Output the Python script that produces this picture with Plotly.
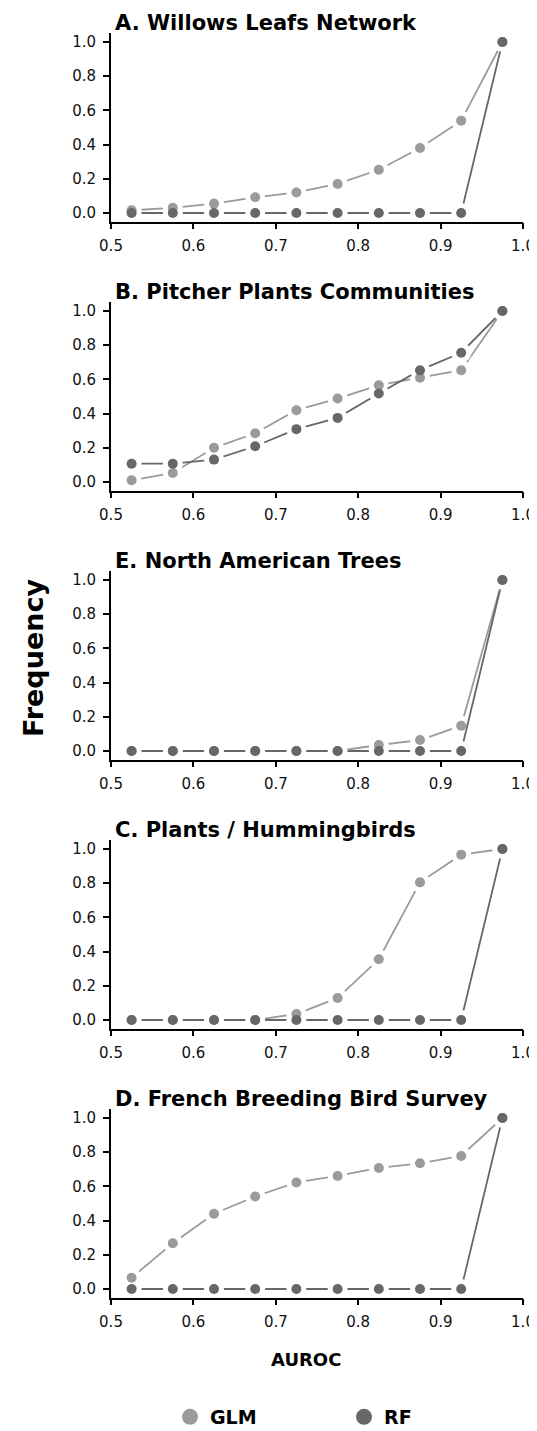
import plotly.graph_objects as go

# ---------------- data ----------------
auroc_bins = [0.525, 0.575, 0.625, 0.675, 0.725, 0.775, 0.825, 0.875, 0.925, 0.975]

panel_titles = [
    "A. Willows Leafs Network",
    "B. Pitcher Plants Communities",
    "E. North American Trees",
    "C. Plants / Hummingbirds",
    "D. French Breeding Bird Survey",
]

glm_willows = [0.016, 0.03, 0.055, 0.092, 0.12, 0.17, 0.253, 0.38, 0.54, 1.0]
rf_willows = [0, 0, 0, 0, 0, 0, 0, 0, 0, 1.0]

glm_pitcher = [0.01, 0.053, 0.2, 0.285, 0.42, 0.488, 0.566, 0.61, 0.654, 1.0]
rf_pitcher = [0.107, 0.107, 0.131, 0.209, 0.309, 0.375, 0.518, 0.654, 0.756, 1.0]

glm_trees = [0, 0, 0, 0, 0, 0, 0.035, 0.064, 0.148, 1.0]
rf_trees = [0, 0, 0, 0, 0, 0, 0, 0, 0, 1.0]

glm_humming = [0, 0, 0, 0, 0.035, 0.129, 0.355, 0.805, 0.967, 1.0]
rf_humming = [0, 0, 0, 0, 0, 0, 0, 0, 0, 1.0]

glm_birds = [0.066, 0.268, 0.44, 0.541, 0.623, 0.661, 0.708, 0.735, 0.778, 1.0]
rf_birds = [0, 0, 0, 0, 0, 0, 0, 0, 0, 1.0]

glm_series = [glm_willows, glm_pitcher, glm_trees, glm_humming, glm_birds]
rf_series = [rf_willows, rf_pitcher, rf_trees, rf_humming, rf_birds]

x_ticks = [0.5, 0.6, 0.7, 0.8, 0.9, 1.0]
y_ticks = [0.0, 0.2, 0.4, 0.6, 0.8, 1.0]

# ---------------- style / layout ----------------
PAGE_W, PAGE_H = 537, 1431
BODY = 8                       # default <body> margin of the html page
W, H = PAGE_W - BODY, PAGE_H - BODY
GLM_COLOR = "#9b9b9b"
RF_COLOR = "#676767"
FONT = "DejaVu Sans"


def fx(px):   # page pixel -> paper x
    return (px - BODY) / W


def fy(py):   # page pixel -> paper y
    return 1 - (py - BODY) / H


# page-pixel position of y=0 and y=1 for each panel
zero_px = [213, 482, 751, 1020, 1289]
one_px = [42, 311, 580, 849, 1118]
x_left_px, x_right_px = 111, 523
Y_RANGE = [-0.05, 1.05]

fig = go.Figure()
layout = dict(
    width=W, height=H,
    margin=dict(l=0, r=0, t=0, b=0, pad=0, autoexpand=False),
    paper_bgcolor="white", plot_bgcolor="white",
    font=dict(family=FONT, color="#111111", size=15),
    showlegend=True,
)
annotations = []

axis_common = dict(
    showline=True, linecolor="black", linewidth=1.7,
    ticks="outside", ticklen=6, tickwidth=1.5, tickcolor="black",
    ticklabelstandoff=4, ticklabeloverflow="allow", automargin=False,
    showgrid=False, zeroline=False,
    tickfont=dict(size=15, family=FONT, color="#111111"),
)

for i in range(5):
    s = zero_px[i] - one_px[i]
    bottom_px = zero_px[i] + 0.05 * s
    top_px = one_px[i] - 0.05 * s
    xa = "xaxis" if i == 0 else f"xaxis{i+1}"
    ya = "yaxis" if i == 0 else f"yaxis{i+1}"
    xr = "x" if i == 0 else f"x{i+1}"
    yr = "y" if i == 0 else f"y{i+1}"

    layout[xa] = dict(
        axis_common,
        domain=[fx(x_left_px), fx(x_right_px)], range=[0.5, 1.0], anchor=yr,
        tickvals=x_ticks, ticktext=[f"{v:.1f}" for v in x_ticks],
    )
    layout[ya] = dict(
        axis_common,
        domain=[fy(bottom_px), fy(top_px)], range=Y_RANGE, anchor=xr,
        tickvals=y_ticks, ticktext=[f"{v:.1f}" for v in y_ticks],
    )

    # lines with white gap discs around the points (type "b" look)
    for vals, col in ((glm_series[i], GLM_COLOR), (rf_series[i], RF_COLOR)):
        fig.add_trace(go.Scatter(
            x=auroc_bins, y=vals, mode="lines+markers", xaxis=xr, yaxis=yr,
            line=dict(color=col, width=1.8),
            marker=dict(color="white", size=20, line=dict(width=0)),
            showlegend=False, hoverinfo="skip", cliponaxis=False,
        ))
    # the points themselves
    for vals, col, name in ((glm_series[i], GLM_COLOR, "GLM"),
                            (rf_series[i], RF_COLOR, "RF")):
        fig.add_trace(go.Scatter(
            x=auroc_bins, y=vals, mode="markers", xaxis=xr, yaxis=yr, name=name,
            marker=dict(color=col, size=10, line=dict(width=0)),
            showlegend=False, legendgroup=name, cliponaxis=False,
        ))

    annotations.append(dict(
        text=panel_titles[i], xref="paper", yref="paper",
        x=fx(113), y=fy(one_px[i] - 19), xanchor="left", yanchor="middle",
        showarrow=False, font=dict(family=FONT, size=21, color="black", weight="bold"),
    ))

# legend entries (large symbols, as in the reference key)
for name, col, leg in (("GLM", GLM_COLOR, "legend"), ("RF", RF_COLOR, "legend2")):
    fig.add_trace(go.Scatter(
        x=[None], y=[None], mode="markers", name=name, legendgroup=name, legend=leg,
        marker=dict(color=col, size=22, line=dict(width=0)), showlegend=True,
    ))

annotations.append(dict(
    text="Frequency", xref="paper", yref="paper", x=fx(33), y=fy(658),
    xanchor="center", yanchor="middle", textangle=-90, showarrow=False,
    font=dict(family=FONT, size=27, color="black", weight="bold"),
))
annotations.append(dict(
    text="AUROC", xref="paper", yref="paper", x=fx(306), y=fy(1359),
    xanchor="center", yanchor="middle", showarrow=False,
    font=dict(family=FONT, size=18, color="black", weight="bold"),
))

layout["annotations"] = annotations
leg_common = dict(
    orientation="v", yanchor="middle", xanchor="left", bgcolor="rgba(0,0,0,0)",
    font=dict(family=FONT, size=19, color="black", weight="bold"),
    itemsizing="trace", borderwidth=0,
)
layout["legend"] = dict(leg_common, x=fx(170), y=fy(1417))
layout["legend2"] = dict(leg_common, x=fx(344), y=fy(1417))

fig.update_layout(**layout)
fig.write_html("out.html")
